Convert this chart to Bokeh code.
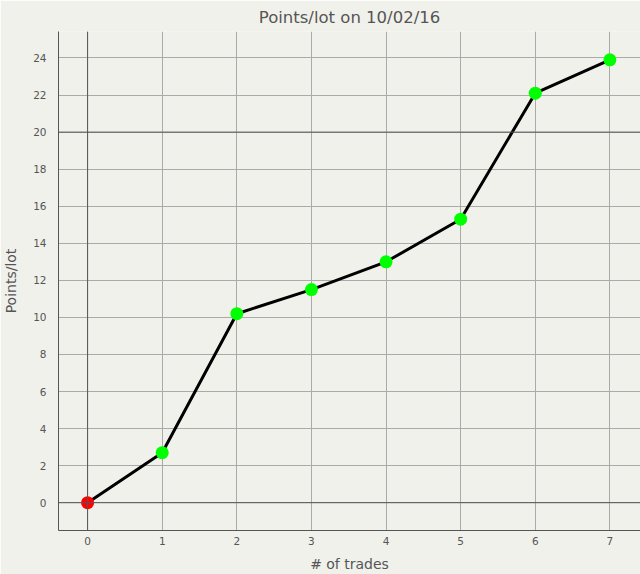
from bokeh.plotting import figure
from bokeh.models import Span, FixedTicker, Range1d
from bokeh.embed import file_html
from bokeh.resources import INLINE

trades = [0, 1, 2, 3, 4, 5, 6, 7]
points = [0.0, 2.7, 10.2, 11.5, 13.0, 15.3, 22.1, 23.9]
colors = ["#ff0000", "#00ff00", "#00ff00", "#00ff00", "#00ff00", "#00ff00", "#00ff00", "#00ff00"]
x_ticks = [0, 1, 2, 3, 4, 5, 6, 7]
y_ticks = list(range(0, 25, 2))
ref_lines_y = [0, 20]
ref_lines_x = [0]

BG = "#f1f1ec"
TXT = "#555555"
FONT = "DejaVu Sans"

p = figure(width=640, height=574, output_backend="svg", toolbar_location=None,
           x_range=Range1d(-0.39, 7.41), y_range=Range1d(-1.5, 25.43),
           title="Points/lot on 10/02/16",
           min_border_left=58, min_border_right=0, min_border_top=31, min_border_bottom=43)
p.background_fill_color = BG
p.border_fill_color = BG
p.outline_line_color = None

p.title.align = "center"
p.title.text_font = FONT
p.title.text_font_size = "16.5px"
p.title.text_font_style = "normal"
p.title.text_color = TXT

for ax in (p.xaxis, p.yaxis):
    ax.axis_line_color = "#555555"
    ax.axis_line_width = 1
    ax.major_tick_line_color = None
    ax.minor_tick_line_color = None
    ax.major_label_text_font = FONT
    ax.major_label_text_font_size = "10.5px"
    ax.major_label_text_color = TXT
    ax.axis_label_text_font = FONT
    ax.axis_label_text_font_size = "14px"
    ax.axis_label_text_font_style = "normal"
    ax.axis_label_text_color = TXT

p.xaxis.ticker = FixedTicker(ticks=x_ticks)
p.yaxis.ticker = FixedTicker(ticks=y_ticks)
p.xaxis.axis_label = "# of trades"
p.yaxis.axis_label = "Points/lot"
p.xaxis.major_label_standoff = 0
p.yaxis.major_label_standoff = 6
p.xaxis.axis_label_standoff = 8
p.yaxis.axis_label_standoff = 11

p.xgrid.grid_line_color = "#aaaaaa"
p.ygrid.grid_line_color = "#aaaaaa"
p.xgrid.grid_line_width = 1
p.ygrid.grid_line_width = 1

for yv in ref_lines_y:
    p.add_layout(Span(location=yv, dimension="width", line_color="#555555", line_width=1))
for xv in ref_lines_x:
    p.add_layout(Span(location=xv, dimension="height", line_color="#555555", line_width=1))

p.line(trades, points, line_color="black", line_width=3)
p.scatter(trades, points, size=13, fill_color=colors, line_color=None)

open("out.html", "w").write(file_html(p, INLINE))
